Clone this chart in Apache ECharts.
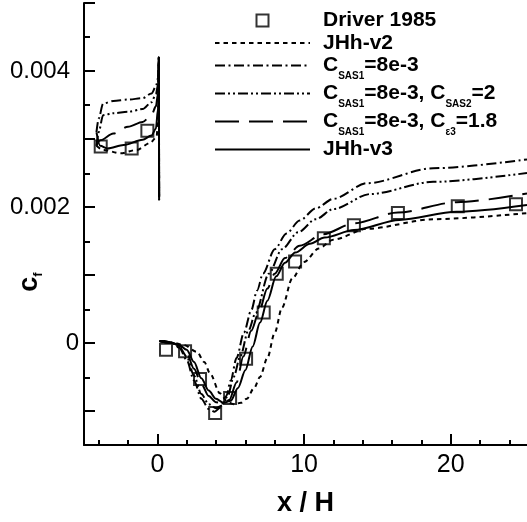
<!DOCTYPE html>
<html>
<head>
<meta charset="utf-8">
<script src="https://cdn.jsdelivr.net/npm/echarts@6/dist/echarts.min.js"></script>
<style>
html,body{margin:0;padding:0;background:#fff;}
#chart{width:527px;height:522px;}
</style>
</head>
<body>
<div id="chart"></div>
<script>
// 实验数据 Driver 1985
var driver = [[-3.86,0.00289],[-1.75,0.00286],[-0.68,0.00312],[0.59,-0.0001],[1.89,-0.00012],[2.91,-0.00053],[3.94,-0.00103],[4.96,-0.00081],[6.05,-0.00023],[7.25,0.00045],[8.14,0.00102],[9.39,0.0012],[11.35,0.00154],[13.4,0.00173],[16.4,0.00191],[20.48,0.00201],[24.45,0.00204]];

// JHh-v2
var v2Up = [[-4.15,0.0029],[-3.7,0.00284],[-2.5,0.00279],[-1.4,0.00284],[-0.5,0.00294],[-0.05,0.00303],[0.05,0.0033],[0.1,0.0042],[0.12,0.0021]];
var v2Down = [[0.15,0.00003],[1.0,0.00001],[1.8,-0.00003],[2.7,-0.00013],[3.2,-0.00028],[3.6,-0.00045],[4.27,-0.00074],[4.8,-0.00087],[5.2,-0.0009],[5.7,-0.00088],[6.1,-0.00082],[6.6,-0.00066],[7.0,-0.0005],[7.5,-0.00022],[8.0,0.00015],[8.5,0.00052],[9.2,0.00095],[10.0,0.00119],[11.0,0.00139],[12.0,0.00152],[14.3,0.00168],[18.8,0.00182],[25.2,0.00191]];

// C_SAS1=8e-3
var sas1Up = [[-4.15,0.0031],[-4.0,0.0033],[-3.7,0.00352],[-3.0,0.00356],[-2.0,0.00358],[-1.0,0.0036],[-0.4,0.00367],[-0.1,0.00377],[0.05,0.0039],[0.1,0.0042],[0.12,0.0021]];
var sas1Down = [[0.15,0.00003],[1.0,0.0],[1.5,-0.00007],[2.0,-0.00025],[2.5,-0.00055],[3.0,-0.00082],[3.5,-0.00097],[3.9,-0.00101],[4.3,-0.00095],[4.7,-0.00078],[5.0,-0.00055],[5.4,-0.00022],[5.9,0.00015],[6.4,0.00048],[6.8,0.00077],[7.2,0.00102],[8.0,0.00138],[8.8,0.00161],[9.7,0.0018],[10.8,0.00198],[12.0,0.00212],[14.3,0.00235],[18.8,0.00257],[25.2,0.0027]];

// C_SAS1=8e-3, C_SAS2=2
var sas2Up = [[-4.15,0.0029],[-4.0,0.0031],[-3.7,0.00335],[-3.0,0.00338],[-2.0,0.0034],[-1.0,0.00344],[-0.4,0.00354],[-0.1,0.00366],[0.05,0.0038],[0.1,0.0042],[0.12,0.0021]];
var sas2Down = [[0.15,0.00003],[1.0,0.0],[1.5,-0.00006],[2.0,-0.0002],[2.5,-0.00048],[3.0,-0.00075],[3.5,-0.0009],[4.0,-0.00096],[4.4,-0.00092],[4.8,-0.00078],[5.2,-0.0005],[5.65,-0.0002],[6.2,0.00018],[6.7,0.00044],[7.6,0.00102],[8.5,0.00138],[9.6,0.00163],[10.8,0.00182],[12.0,0.00197],[14.5,0.00219],[18.8,0.00237],[25.2,0.0025]];

// C_SAS1=8e-3, C_e3=1.8
var ce3Up = [[-4.15,0.0029],[-3.9,0.00298],[-3.0,0.00308],[-2.0,0.00318],[-1.0,0.00325],[-0.4,0.00335],[-0.1,0.00348],[0.05,0.00367],[0.1,0.0042],[0.12,0.0021]];
var ce3Down = [[0.15,0.00003],[1.0,0.0],[1.5,-0.00004],[2.0,-0.00015],[2.5,-0.00038],[3.0,-0.0006],[3.5,-0.00078],[4.0,-0.00087],[4.5,-0.00089],[4.9,-0.00084],[5.4,-0.00058],[5.86,-0.0002],[6.4,0.00018],[6.9,0.00044],[7.5,0.0008],[8.0,0.00102],[8.7,0.00125],[9.7,0.00143],[11.3,0.0016],[13.4,0.00176],[16.4,0.00192],[20.4,0.00207],[25.2,0.0022]];

// JHh-v3
var v3Up = [[-4.15,0.0031],[-3.9,0.0029],[-3.4,0.00286],[-2.3,0.00291],[-1.0,0.00299],[-0.4,0.00305],[-0.1,0.00315],[0.05,0.00345],[0.1,0.0042],[0.12,0.0021]];
var v3Down = [[0.15,0.00003],[0.5,0.00003],[1.0,0.0],[1.5,-0.00003],[2.0,-0.0001],[2.5,-0.00028],[3.0,-0.00052],[3.5,-0.0007],[4.0,-0.00082],[4.5,-0.00088],[5.0,-0.00085],[5.5,-0.00066],[6.0,-0.0004],[6.5,-0.00005],[7.0,0.0003],[7.5,0.00062],[8.1,0.00098],[8.7,0.00118],[9.4,0.00133],[10.4,0.00146],[11.4,0.00155],[13.4,0.00166],[16.5,0.00181],[20.4,0.00193],[25.2,0.00203]];

// 刻度
var xMajorTicks = [0, 10, 20];
var xMinorTicks = [-4, -2, 2, 4, 6, 8, 12, 14, 16, 18, 22, 24];
var yMajorTicks = [-0.001, 0, 0.001, 0.002, 0.003, 0.004, 0.005];
var yMinorTicks = [-0.0005, 0.0005, 0.0015, 0.0025, 0.0035, 0.0045];
var yLabels = [0, 0.002, 0.004];

var names = ['Driver 1985', 'JHh-v2', 'C SAS1=8e-3', 'C SAS1=8e-3, C SAS2=2', 'C SAS1=8e-3, C \u03b53=1.8', 'JHh-v3'];
var richNames = {};
richNames[names[0]] = '{b|Driver 1985}';
richNames[names[1]] = '{b|JHh-v2}';
richNames[names[2]] = '{b|C}{s|SAS1}{b|=8e-3}';
richNames[names[3]] = '{b|C}{s|SAS1}{b|=8e-3, C}{s|SAS2}{b|=2}';
richNames[names[4]] = '{b|C}{s|SAS1}{b|=8e-3, C}{s|\u03b53}{b|=1.8}';
richNames[names[5]] = '{b|JHh-v3}';

var FONT = 'Liberation Sans';
var SQUARE = 'path://M0 0L10 0L10 10L0 10Z';

function join(up, down){
	return up.concat([[0.13, '-']], down);
}

function lineSeries(name, data, dash){
	return {
		name : name,
		type : 'line',
		data : data,
		symbol : 'none',
		showSymbol : false,
		smooth : 0.3,
		smoothMonotone : 'x',
		connectNulls : false,
		lineStyle : {color:'#000', width:2, type:dash},
		itemStyle : {color:'#000'}
	};
}

var myChart = echarts.init(document.getElementById('chart'));

var tickStyle = {color:'#000', width:2};

var option = {
	animation : false,
	backgroundColor : '#fff',
	textStyle : {fontFamily:FONT},
	grid : [
		{left:84, top:3, width:443, height:443},
		{left:84, top:3, width:443, height:443}
	],
	xAxis : [
		{
			gridIndex:0, type:'value', min:-5, max:25.2,
			axisLine:{show:true, onZero:false, lineStyle:tickStyle},
			axisTick:{show:true, inside:true, length:11, lineStyle:tickStyle, customValues:xMajorTicks},
			axisLabel:{customValues:xMajorTicks, fontSize:25, color:'#000', margin:8, fontFamily:FONT},
			splitLine:{show:false},
			name:'x / H', nameLocation:'middle', nameGap:45,
			nameTextStyle:{fontSize:27, fontWeight:'bold', color:'#000', fontFamily:FONT}
		},
		{
			gridIndex:1, type:'value', min:-5, max:25.2,
			axisLine:{show:false, onZero:false},
			axisTick:{show:true, inside:true, length:6, lineStyle:tickStyle, customValues:xMinorTicks},
			axisLabel:{show:false},
			splitLine:{show:false}
		}
	],
	yAxis : [
		{
			gridIndex:0, type:'value', min:-0.0015, max:0.005,
			axisLine:{show:true, onZero:false, lineStyle:tickStyle},
			axisTick:{show:true, inside:true, length:11, lineStyle:tickStyle, customValues:yMajorTicks},
			axisLabel:{
				customValues:yLabels, fontSize:24, color:'#000', margin:5, fontFamily:FONT,
				formatter:function(v){
					if(Math.abs(v) < 1e-9) return '0';
					return '{p|' + v.toFixed(3) + '}';
				},
				rich:{p:{fontSize:24, color:'#000', fontFamily:FONT, padding:[0,9,0,0]}}
			},
			splitLine:{show:false}
		},
		{
			gridIndex:1, type:'value', min:-0.0015, max:0.005,
			axisLine:{show:false, onZero:false},
			axisTick:{show:true, inside:true, length:6, lineStyle:tickStyle, customValues:yMinorTicks},
			axisLabel:{show:false},
			splitLine:{show:false}
		}
	],
	legend : {
		orient:'vertical', left:209, top:5,
		itemWidth:95, itemHeight:12, itemGap:1.5,
		selectedMode:false,
		data:[
			{name:names[0], icon:SQUARE},
			{name:names[1], itemStyle:{opacity:0}},
			{name:names[2], itemStyle:{opacity:0}},
			{name:names[3], itemStyle:{opacity:0}},
			{name:names[4], itemStyle:{opacity:0}},
			{name:names[5], itemStyle:{opacity:0}}
		],
		formatter:function(n){ return richNames[n]; },
		textStyle:{
			color:'#000', padding:[0,0,0,8],
			rich:{
				b:{fontSize:21, fontWeight:'bold', color:'#000', fontFamily:FONT, lineHeight:24},
				s:{fontSize:10, fontWeight:'bold', color:'#000', fontFamily:FONT, lineHeight:12, padding:[11,0,-11,0]}
			}
		}
	},
	graphic : [
		{
			type:'text', x:30, y:282, rotation:Math.PI/2,
			style:{
				text:'{c|c}{f|f}', align:'center', verticalAlign:'middle',
				rich:{
					c:{fontSize:27, fontWeight:'bold', fill:'#000', fontFamily:FONT, lineHeight:30},
					f:{fontSize:13, fontWeight:'bold', fill:'#000', fontFamily:FONT, lineHeight:14, padding:[8,0,-8,0]}
				}
			}
		}
	],
	series : [
		lineSeries(names[1], join(v2Up, v2Down), [4.5,4]),
		lineSeries(names[2], join(sas1Up, sas1Down), [10,3.5,2,3.5]),
		lineSeries(names[3], join(sas2Up, sas2Down), [10,3,2,3,2,3]),
		lineSeries(names[4], join(ce3Up, ce3Down), [24,10]),
		lineSeries(names[5], join(v3Up, v3Down), 'solid'),
		{
			name:names[0], type:'scatter', data:driver, symbol:'rect', symbolSize:12, z:10,
			itemStyle:{color:'rgba(255,255,255,0)', borderColor:'#000', borderWidth:2}
		}
	]
};

myChart.setOption(option);
</script>
</body>
</html>
